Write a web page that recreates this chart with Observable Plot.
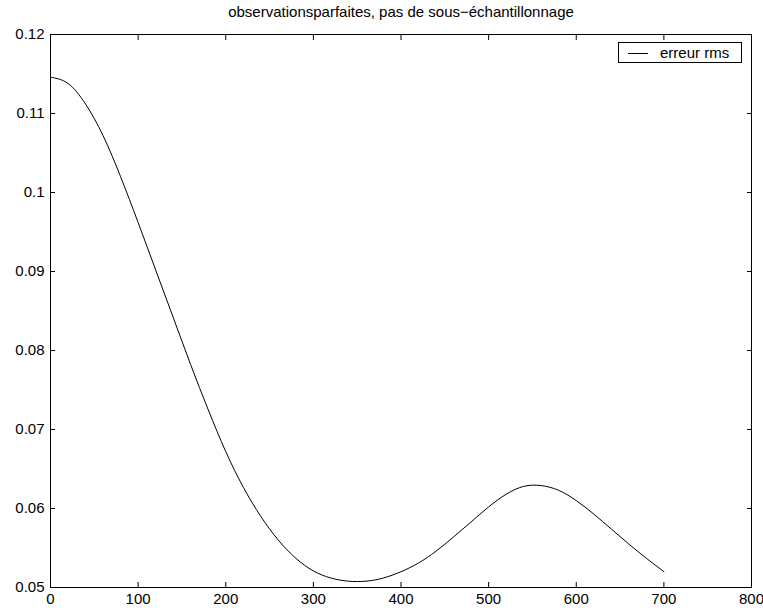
<!DOCTYPE html>
<html>
<head>
<meta charset="utf-8">
<script src="https://cdn.jsdelivr.net/npm/d3@7"></script>
<script src="https://cdn.jsdelivr.net/npm/@observablehq/plot@0.6"></script>
<style>
  html, body { margin: 0; padding: 0; background: #fff; }
  #wrap { position: relative; width: 763px; height: 610px; font-family: "Liberation Sans", Arial, Helvetica, sans-serif; }
  #legend {
    position: absolute; left: 618px; top: 42px; width: 122px; height: 19px;
    border: 1px solid #000; background: #fff; box-sizing: content-box;
    font-size: 15px; color: #000;
  }
  #legend .swatch { position: absolute; left: 9px; top: 10px; width: 20px; height: 0; border-top: 1px solid #000; }
  #legend .label { position: absolute; left: 41px; top: 0px; line-height: 19px; white-space: nowrap; }
</style>
</head>
<body>
<div id="wrap"></div>
<script>
// RMS error against iteration count
const iterations = [0, 20, 40, 60, 80, 100, 120, 140, 160, 180, 200, 220, 240, 260, 280,
                    300, 320, 340, 360, 380, 400, 420, 440, 460, 480, 500, 520, 540, 560,
                    580, 600, 620, 640, 660, 680, 700];
const rmsError = [0.1146, 0.1138, 0.1112, 0.1072, 0.1020, 0.0962, 0.0902, 0.0842, 0.0782,
                  0.0725, 0.0672, 0.0627, 0.0590, 0.0560, 0.0537, 0.0521, 0.0512, 0.0508,
                  0.0508, 0.0512, 0.0520, 0.0531, 0.0546, 0.0564, 0.0583, 0.0602, 0.0618,
                  0.0628, 0.0629, 0.0623, 0.0610, 0.0593, 0.0574, 0.0555, 0.0537, 0.0520];
const xTicks = [0, 100, 200, 300, 400, 500, 600, 700, 800];
const yTicks = [0.05, 0.06, 0.07, 0.08, 0.09, 0.1, 0.11, 0.12];
const titleText = "observationsparfaites, pas de sous\u2212échantillonnage";
const seriesName = "erreur rms";

const data = iterations.map((x, i) => ({x, y: rmsError[i]}));
const font = "\"Liberation Sans\", Arial, Helvetica, sans-serif";
const blank = () => "";

const chart = Plot.plot({
  width: 763,
  height: 610,
  marginLeft: 50,
  marginRight: 12,
  marginTop: 34,
  marginBottom: 23,
  style: {fontFamily: font, fontSize: "15px", color: "#000", background: "#fff", overflow: "visible"},
  x: {domain: [0, 800]},
  y: {domain: [0.05, 0.12]},
  marks: [
    // tick labels
    Plot.axisX(xTicks, {anchor: "bottom", tickSize: 0, tickPadding: 6, label: null, fontSize: 15}),
    Plot.axisY(yTicks, {anchor: "left", tickSize: 0, tickPadding: 6, label: null, fontSize: 15, tickFormat: d => String(d)}),
    // inward ticks on all four sides
    Plot.axisX(xTicks, {anchor: "bottom", tickSize: 5, dy: -5, tickFormat: blank, label: null, stroke: "#000"}),
    Plot.axisX(xTicks, {anchor: "top", tickSize: 5, dy: 5, tickFormat: blank, label: null, stroke: "#000"}),
    Plot.axisY(yTicks, {anchor: "left", tickSize: 5, dx: 5, tickFormat: blank, label: null, stroke: "#000"}),
    Plot.axisY(yTicks, {anchor: "right", tickSize: 5, dx: -5, tickFormat: blank, label: null, stroke: "#000"}),
    Plot.frame({stroke: "#000", strokeWidth: 1}),
    Plot.line(data, {x: "x", y: "y", stroke: "#000", strokeWidth: 1, curve: "natural"}),
    Plot.text([titleText], {frameAnchor: "top", dy: -22, lineAnchor: "middle", fontSize: 15, fill: "#000"})
  ]
});

const wrap = document.getElementById("wrap");
wrap.appendChild(chart);

const legend = document.createElement("div");
legend.id = "legend";
legend.innerHTML = `<div class="swatch"></div><div class="label"></div>`;
legend.querySelector(".label").textContent = seriesName;
wrap.appendChild(legend);
</script>
</body>
</html>
